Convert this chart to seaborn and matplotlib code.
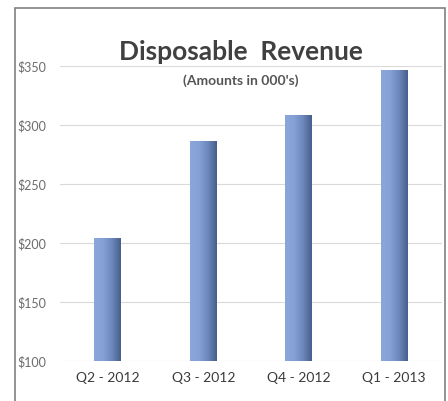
import numpy as np
import pandas as pd
import seaborn as sns
import matplotlib.pyplot as plt
from matplotlib.patches import Rectangle
from matplotlib.colors import LinearSegmentedColormap

quarters = ['Q2 - 2012', 'Q3 - 2012', 'Q4 - 2012', 'Q1 - 2013']
revenue = [204, 286, 308, 346]
yticks = [100, 150, 200, 250, 300, 350]

df = pd.DataFrame({'quarter': quarters, 'revenue': revenue})

sns.set_style('white')
plt.rcParams['font.family'] = ['Lato', 'DejaVu Sans']

fig = plt.figure(figsize=(4.48, 4.01), dpi=100)
ax = fig.add_axes([60 / 448, 1 - 361 / 401, 382 / 448, 295 / 401])

sns.barplot(data=df, x='quarter', y='revenue', color='#7f9bd0', width=0.28, ax=ax)

# gradient shading on each bar (light left, dark right)
cmap = LinearSegmentedColormap.from_list('barshade', ['#8ba6d8', '#86a1d4', '#6d88bd', '#475f8c'])
grad = np.linspace(0, 1, 64).reshape(1, -1)
for p in ax.patches:
    x0, y0 = p.get_x(), p.get_y()
    w, h = p.get_width(), p.get_height()
    ax.imshow(grad, cmap=cmap, aspect='auto', extent=(x0, x0 + w, y0, y0 + h), zorder=3)
    p.set_visible(False)
ax.set_xlim(-0.5, 3.5)
ax.set_ylim(100, 350)

ax.set_yticks(yticks)
ax.set_yticklabels([f'${v}' for v in yticks], ha='left', fontsize=9, color='#6b6b6b')
ax.tick_params(axis='y', length=0, pad=31)
ax.tick_params(axis='x', length=0, pad=8, labelsize=10, labelcolor='#3a3a3a')
ax.grid(axis='y', color='#d9d9d9', linewidth=0.8)
ax.set_axisbelow(True)
ax.set_xlabel('')
ax.set_ylabel('')
for s in ax.spines.values():
    s.set_visible(False)

fig.text(241 / 448, 1 - 52 / 401, 'Disposable  Revenue', ha='center', va='center',
         fontsize=19, fontweight='bold', color='#404040')
fig.text(241 / 448, 1 - 81 / 401, "(Amounts in 000's)", ha='center', va='center',
         fontsize=10, fontweight='bold', color='#555555')

fig.patches.append(Rectangle((15 / 448, -0.05), 430 / 448, 1.05 - 8 / 401,
                             transform=fig.transFigure, fill=False,
                             edgecolor='#808080', linewidth=1.2))

fig.savefig('out.png', dpi=100)
